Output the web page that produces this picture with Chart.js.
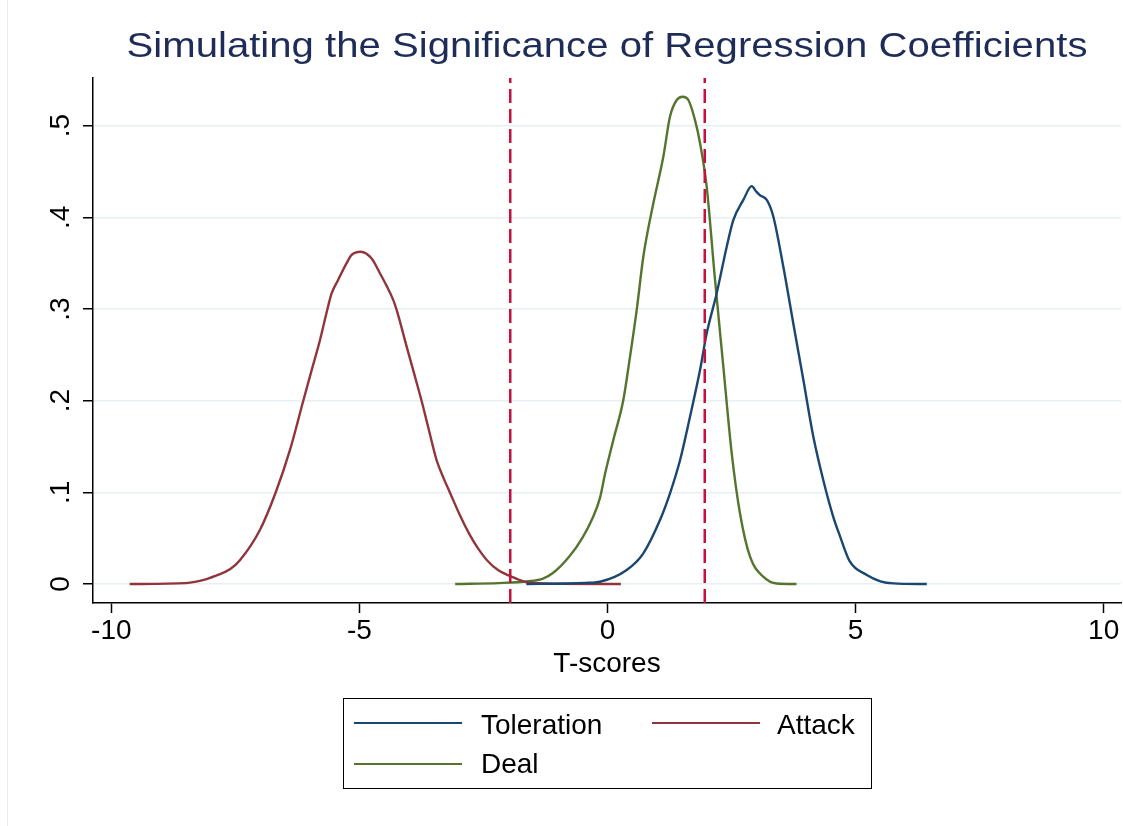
<!DOCTYPE html>
<html>
<head>
<meta charset="utf-8">
<script src="https://cdn.jsdelivr.net/npm/chart.js@4.4.1/dist/chart.umd.min.js"></script>
<style>
  html, body { margin: 0; padding: 0; background: #ffffff; }
  #wrap { position: relative; width: 1123px; height: 826px; overflow: hidden; background: #ffffff; }
  #edge { position: absolute; left: 7px; top: 0; width: 1px; height: 826px; background: #ebebeb; }
  #chart { position: absolute; left: 0; top: 0; }
  #legend { position: absolute; left: 343px; top: 698px; width: 527px; height: 89px;
            border: 1.5px solid #000; font-family: "Liberation Sans", Arial, sans-serif;
            font-size: 28px; color: #000; }
  .sw { position: absolute; height: 2px; width: 108px; }
  .lb { position: absolute; white-space: nowrap; line-height: 28px; height: 28px; }
</style>
</head>
<body>
<div id="wrap">
  <div id="edge"></div>
  <canvas id="chart" width="1123" height="826"></canvas>
  <div id="legend"></div>
</div>
<script>
// ---------------- data ----------------
const titleText = "Simulating the Significance of Regression Coefficients";
const xAxisTitle = "T-scores";
const seriesNames = ["Toleration", "Attack", "Deal"];
const seriesColors = ["#1a476f", "#90353b", "#55752f"];

const xTicks = [-10, -5, 0, 5, 10];
const xTickLabels = ["-10", "-5", "0", "5", "10"];
const yTicks = [0, 0.1, 0.2, 0.3, 0.4, 0.5];
const yTickLabels = ["0", ".1", ".2", ".3", ".4", ".5"];

const criticalValues = [-1.96, 1.96];

const tolerationT = [-1.635, -0.8, -0.45, -0.151, 0.387, 0.722, 1.058, 1.26, 1.462, 1.663, 1.865, 2.0, 2.2, 2.403, 2.536, 2.738, 2.907, 3.0, 3.075, 3.21, 3.343, 3.544, 3.746, 3.948, 4.149, 4.351, 4.552, 4.687, 4.88, 5.226, 5.5, 5.762, 6.435];
const tolerationDensity = [0, 0.0005, 0.0012, 0.0025, 0.0153, 0.0335, 0.0698, 0.099, 0.135, 0.1825, 0.2334, 0.2735, 0.317, 0.368, 0.397, 0.419, 0.434, 0.428, 0.424, 0.419, 0.4007, 0.346, 0.284, 0.2225, 0.1607, 0.113, 0.073, 0.052, 0.025, 0.0098, 0.003, 0.0007, 0];

const attackT = [-9.63, -8.5, -8.1, -7.9, -7.61, -7.409, -7.006, -6.69, -6.401, -6.133, -5.964, -5.796, -5.649, -5.561, -5.427, -5.258, -5.157, -4.976, -4.754, -4.587, -4.45, -4.319, -4.25, -4.048, -3.915, -3.746, -3.6, -3.444, -3.3, -3.175, -2.974, -2.77, -2.6, -2.43, -2.2, -1.96, -1.63, -1.0, 0.27];
const attackDensity = [0, 0.001, 0.005, 0.009, 0.016, 0.026, 0.059, 0.0996, 0.146, 0.1996, 0.233, 0.266, 0.299, 0.317, 0.332, 0.350, 0.359, 0.3625, 0.355, 0.339, 0.325, 0.310, 0.299, 0.259, 0.233, 0.1996, 0.168, 0.135, 0.115, 0.0996, 0.075, 0.053, 0.038, 0.026, 0.015, 0.0087, 0.002, 0.0003, 0];

const dealT = [-3.07, -2.2, -1.6, -1.3, -1.1, -0.77, -0.5, -0.3, -0.151, -0.05, 0.117, 0.319, 0.454, 0.589, 0.722, 0.923, 1.125, 1.26, 1.395, 1.516, 1.63, 1.764, 1.865, 2.0, 2.167, 2.335, 2.504, 2.671, 2.873, 3.14, 3.41, 3.81];
const dealDensity = [0, 0.001, 0.003, 0.006, 0.012, 0.03, 0.051, 0.072, 0.094, 0.12, 0.157, 0.2007, 0.248, 0.299, 0.357, 0.415, 0.466, 0.510, 0.528, 0.5316, 0.528, 0.506, 0.481, 0.433, 0.332, 0.237, 0.1426, 0.077, 0.0298, 0.008, 0.0005, 0];

// axis ranges
const xMin = -10.37, xMax = 10.35;
const yMin = -0.0207, yMax = 0.552;

// ---------------- build chart ----------------
const FONT = '"Liberation Sans", Arial, sans-serif';
const toPts = (xs, ys) => xs.map((x, i) => ({ x: x, y: ys[i] }));
const seriesT = [tolerationT, attackT, dealT];
const seriesD = [tolerationDensity, attackDensity, dealDensity];

const datasets = seriesNames.map((name, i) => ({
  label: name,
  data: toPts(seriesT[i], seriesD[i]),
  borderColor: seriesColors[i],
  backgroundColor: seriesColors[i],
  borderWidth: 2.4,
  pointRadius: 0,
  fill: false,
  cubicInterpolationMode: 'monotone',
  order: 1
}));
criticalValues.forEach(v => {
  datasets.push({
    label: 'critical ' + v,
    data: [{ x: v, y: yMin }, { x: v, y: yMax }],
    borderColor: '#c8103c',
    borderWidth: 2.5,
    borderDash: [14, 6],
    pointRadius: 0,
    fill: false,
    order: 0
  });
});

const titlePlugin = {
  id: 'stataTitle',
  afterDraw(chart) {
    const { ctx, chartArea } = chart;
    ctx.save();
    ctx.font = '35px ' + FONT;
    ctx.fillStyle = '#1e2c57';
    ctx.textAlign = 'center';
    ctx.textBaseline = 'alphabetic';
    const w = ctx.measureText(titleText).width;
    const sx = 961 / w;
    ctx.translate((chartArea.left + chartArea.right) / 2, 57);
    ctx.scale(sx, 1);
    ctx.fillText(titleText, 0, 0);
    ctx.restore();
  }
};

new Chart(document.getElementById('chart'), {
  type: 'line',
  data: { datasets },
  options: {
    responsive: false,
    animation: false,
    devicePixelRatio: 1,
    layout: { padding: { left: 0, right: 2, top: 78, bottom: 148 } },
    plugins: { legend: { display: false }, tooltip: { enabled: false }, title: { display: false } },
    scales: {
      x: {
        type: 'linear', min: xMin, max: xMax,
        afterBuildTicks: s => { s.ticks = xTicks.map(v => ({ value: v })); },
        ticks: { callback: (v, i) => xTickLabels[i], font: { family: FONT, size: 28 }, color: '#000', padding: 1, maxRotation: 0, autoSkip: false },
        grid: { display: true, drawOnChartArea: false, drawTicks: true, tickLength: 10, tickColor: '#000', tickWidth: 1.5 },
        border: { display: true, color: '#000', width: 1.5 },
        title: { display: true, text: xAxisTitle, font: { family: FONT, size: 28, lineHeight: 1 }, color: '#000', padding: 0 },
        afterFit: s => { s.height = 75; }
      },
      y: {
        type: 'linear', min: yMin, max: yMax,
        afterBuildTicks: s => { s.ticks = yTicks.map(v => ({ value: v })); },
        ticks: { callback: (v, i) => yTickLabels[i], font: { family: FONT, size: 28 }, color: '#000', padding: 10, minRotation: 90, maxRotation: 90, crossAlign: 'center', autoSkip: false },
        grid: { display: true, drawOnChartArea: true, color: '#e7eff2', lineWidth: 1.5, drawTicks: true, tickLength: 10, tickColor: '#000', tickWidth: 1.5 },
        border: { display: true, color: '#000', width: 1.5 },
        afterFit: s => { s.width = 93; }
      }
    }
  },
  plugins: [titlePlugin]
});

// ---------------- legend (Stata style box, 2 columns) ----------------
const legend = document.getElementById('legend');
const colSwatch = [10, 308], colText = [137, 433];
const rowLine = [23, 64], rowTextTop = [12, 51];
seriesNames.forEach((name, i) => {
  const c = i % 2, r = Math.floor(i / 2);
  const sw = document.createElement('div');
  sw.className = 'sw';
  sw.style.left = colSwatch[c] + 'px';
  sw.style.top = rowLine[r] + 'px';
  sw.style.background = seriesColors[i];
  legend.appendChild(sw);
  const lb = document.createElement('div');
  lb.className = 'lb';
  lb.style.left = colText[c] + 'px';
  lb.style.top = rowTextTop[r] + 'px';
  lb.textContent = name;
  legend.appendChild(lb);
});
</script>
</body>
</html>
